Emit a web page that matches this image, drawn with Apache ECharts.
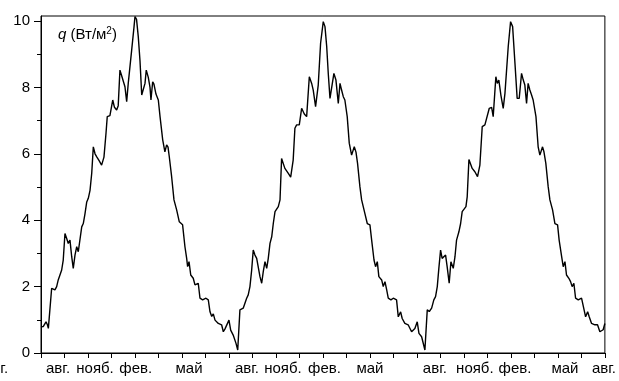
<!DOCTYPE html>
<html>
<head>
<meta charset="utf-8">
<script src="https://cdn.jsdelivr.net/npm/echarts@6/dist/echarts.min.js"></script>
<style>html,body{margin:0;padding:0;background:#fff}#c{width:619px;height:381px}</style>
</head>
<body>
<div id="c"></div>
<script>
// x: months since the first August (0..36), y: q in W/m^2
var monthsX = [
0.00,0.04,0.15,0.32,0.41,0.47,0.54,0.68,0.89,1.00,1.10,1.21,1.32,1.42,1.53,1.64,1.74,1.85,1.96,2.06,2.17,2.28,2.38,2.49,2.60,2.70,2.81,2.92,3.02,3.13,3.24,3.34,3.45,3.56,3.70,3.87,4.02,4.15,4.23,4.40,4.58,4.69,4.83,4.93,5.04,5.15,5.25,5.36,5.47,5.57,5.79,5.94,6.00,6.10,6.21,6.32,6.43,6.53,6.64,6.72,6.85,6.96,7.02,7.13,7.21,7.34,7.49,7.60,7.77,7.91,8.02,8.11,8.19,8.34,8.49,8.66,8.83,9.04,9.19,9.30,9.36,9.45,9.56,9.72,9.83,9.94,10.04,10.15,10.32,10.53,10.68,10.79,10.90,11.00,11.11,11.32,11.53,11.64,11.74,11.85,12.00,12.11,12.27,12.45,12.56,12.70,
12.81,12.91,13.02,13.13,13.23,13.34,13.45,13.55,13.66,13.77,13.87,13.98,14.09,14.19,14.30,14.41,14.51,14.62,14.73,14.83,14.94,15.04,15.15,15.26,15.36,15.57,15.79,15.94,16.10,16.21,16.32,16.49,16.64,16.74,16.81,16.96,17.13,17.28,17.38,17.53,17.70,17.85,18.02,18.13,18.24,18.34,18.45,18.56,18.70,18.83,18.98,19.09,19.19,19.30,19.40,19.55,19.68,19.83,20.00,20.11,20.21,20.36,20.47,20.68,20.83,21.00,21.11,21.26,21.36,21.47,21.57,21.75,21.85,21.96,22.07,22.17,22.34,22.49,22.70,22.81,22.96,23.06,23.23,23.44,23.66,23.87,24.02,24.13,24.30,24.51,24.66,
24.79,24.94,25.08,25.19,25.30,25.40,25.51,25.61,25.72,25.83,25.93,26.06,26.17,26.32,26.43,26.53,26.68,26.79,26.89,27.00,27.13,27.21,27.32,27.53,27.70,27.87,28.02,28.17,28.34,28.45,28.62,28.77,28.87,29.04,29.13,29.23,29.36,29.51,29.62,29.83,29.98,30.11,30.26,30.40,30.53,30.68,30.79,30.89,31.00,31.10,31.21,31.32,31.42,31.60,31.74,31.85,32.02,32.11,32.23,32.38,32.49,32.66,32.81,32.98,33.08,33.24,33.34,33.45,33.55,33.70,33.81,33.91,34.02,34.13,34.30,34.51,34.62,34.77,34.90,35.00,35.15,35.36,35.53,35.68,35.79,35.89,36.00
];
var qValues = [
0.79,0.85,0.80,0.94,0.85,0.74,0.80,1.95,1.90,2.00,2.20,2.25,2.50,2.80,3.60,3.45,3.30,3.40,2.90,2.55,2.95,3.20,3.05,3.10,3.80,3.90,4.20,4.55,4.66,4.90,5.42,6.21,6.00,5.91,5.80,5.66,5.90,6.62,7.12,7.15,7.62,7.40,7.32,7.45,8.52,8.35,8.40,8.02,7.57,8.12,9.13,9.83,10.13,10.05,9.53,8.80,7.77,7.80,8.12,8.52,8.30,8.00,7.62,8.17,8.10,7.80,7.62,7.12,6.42,6.06,6.27,6.20,5.91,5.31,4.61,4.31,3.95,3.86,3.20,2.85,2.60,2.75,2.35,2.25,2.05,2.00,2.10,1.65,1.60,1.65,1.60,1.24,1.10,1.18,0.99,0.89,0.85,0.64,0.72,0.70,0.99,0.69,0.54,0.29,0.09,1.30,
1.30,1.35,1.50,1.65,1.75,2.00,2.50,3.10,2.95,2.85,2.90,2.30,2.10,2.45,2.75,2.55,2.85,3.30,3.50,3.90,4.26,4.20,4.41,4.61,5.86,5.56,5.41,5.30,5.81,6.77,6.87,6.87,7.37,7.37,7.20,7.12,8.32,8.12,7.92,7.42,8.07,9.33,9.98,9.83,9.23,8.42,7.67,7.62,8.42,8.22,7.52,8.12,7.92,7.72,7.62,7.12,6.32,5.96,6.21,6.05,5.71,5.01,4.61,4.20,3.90,3.86,3.40,2.80,2.60,2.75,2.30,2.20,2.00,2.15,1.90,1.65,1.60,1.65,1.60,1.09,1.24,1.04,0.89,0.85,0.64,0.74,0.94,0.59,0.49,0.09,1.30,
1.25,1.35,1.60,1.70,2.00,2.55,3.10,2.85,2.80,2.95,2.60,2.10,2.75,2.55,2.90,3.40,3.65,3.90,4.26,4.20,4.41,4.70,5.83,5.56,5.46,5.31,5.66,6.82,6.87,6.87,7.37,7.40,7.12,8.32,8.12,8.22,7.77,7.37,7.82,9.23,9.98,9.83,8.72,7.67,7.67,8.42,8.22,8.07,7.52,8.12,7.92,7.77,7.62,7.12,6.21,5.96,6.21,6.06,5.71,5.01,4.61,4.31,3.90,3.86,3.40,2.90,2.60,2.75,2.35,2.25,2.15,2.00,2.10,1.65,1.60,1.65,1.60,1.09,1.24,1.09,0.89,0.85,0.85,0.64,0.70,0.70,0.89
];
var monthLabels = ['авг.','нояб.','фев.','май','авг.','нояб.','фев.','май','авг.','нояб.','фев.','май','авг.'];
var monthLabelPos = [1.09,3.45,6.05,9.45,13.15,15.45,18.10,21.00,25.15,27.70,30.26,33.45,35.94];
var yTickValues = [0,2,4,6,8,10];
var yMinorValues = [1,3,5,7,9];

var FONT = '"Liberation Sans", Arial, sans-serif';
var chart = echarts.init(document.getElementById('c'), null, {renderer:'canvas'});
var lineData = monthsX.map(function(m,i){return [m,qValues[i]];});
var labelMap = {};
monthLabelPos.forEach(function(p,i){labelMap[p.toFixed(2)] = monthLabels[i];});

chart.setOption({
  animation:false,
  backgroundColor:'#fff',
  grid:{left:41,right:14,top:16,bottom:28,show:true,borderColor:'#000',borderWidth:1,backgroundColor:'transparent'},
  title:{text:'{q|q} (Вт/м{s|2})',left:53,top:21,
    textStyle:{fontFamily:FONT,fontSize:15,fontWeight:'normal',color:'#000',lineHeight:18,
      rich:{q:{fontFamily:FONT,fontSize:15,fontStyle:'italic',color:'#000',lineHeight:18},
            s:{fontFamily:FONT,fontSize:10,color:'#000',verticalAlign:'top',lineHeight:10}}}},
  xAxis:[
    {type:'value',min:0,max:36,interval:1.5,
     axisLine:{lineStyle:{color:'#000',width:1}},
     axisTick:{inside:false,length:5,lineStyle:{color:'#000',width:1}},
     axisLabel:{show:false},splitLine:{show:false}},
    {type:'value',min:0,max:36,position:'bottom',
     axisLine:{show:false},axisTick:{show:false},splitLine:{show:false},
     axisLabel:{show:true,customValues:monthLabelPos,margin:8,
       fontFamily:FONT,fontSize:15,color:'#000',
       formatter:function(v){return labelMap[v.toFixed(2)]||'';}}}
  ],
  yAxis:[
    {type:'value',min:0,max:10.15,
     axisLine:{show:true,lineStyle:{color:'#000',width:1}},
     axisTick:{show:true,inside:false,length:7,customValues:yTickValues,lineStyle:{color:'#000',width:1}},
     axisLabel:{show:true,customValues:yTickValues,margin:11,fontFamily:FONT,fontSize:15,color:'#000'},
     splitLine:{show:false}},
    {type:'value',min:0,max:10.15,position:'left',
     axisLine:{show:false},
     axisTick:{show:true,inside:false,length:4,customValues:yMinorValues,lineStyle:{color:'#000',width:1}},
     axisLabel:{show:false},splitLine:{show:false}}
  ],
  graphic:[{type:'text',x:-16,y:361,style:{text:'авг.',font:'15px '+FONT,fill:'#000'}}],
  series:[{type:'line',data:lineData,xAxisIndex:0,yAxisIndex:0,showSymbol:false,
    lineStyle:{color:'#000',width:1.4},clip:true}]
});
</script>
</body>
</html>
